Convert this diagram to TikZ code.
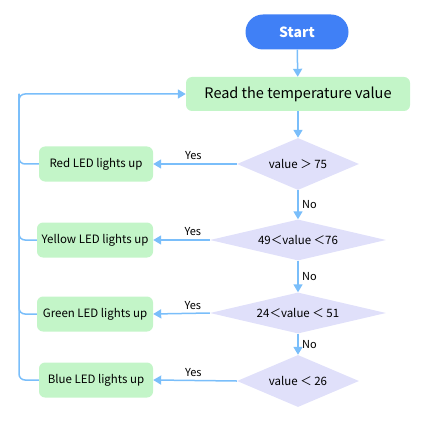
\documentclass[tikz,border=0pt]{standalone}
\usepackage{fontspec}
\setmainfont{Noto Sans CJK SC}
\usepackage{xcolor}
\usetikzlibrary{shapes.geometric,arrows.meta}
\definecolor{startblue}{RGB}{64,128,246}
\definecolor{ledgreen}{RGB}{195,245,200}
\definecolor{testlilac}{RGB}{224,224,250}
\definecolor{flowblue}{RGB}{122,190,250}

\begin{document}
\begin{tikzpicture}[x=1pt, y=-1pt,
    ledbox/.style={fill=ledgreen, rounded corners=6pt, minimum height=35pt, inner sep=0pt, font=\fontsize{11.5}{14}\selectfont},
    test/.style={diamond, fill=testlilac, inner sep=0pt, font=\fontsize{11.5}{14}\selectfont},
    flow/.style={draw=flowblue, line width=1.5pt, -{Triangle[width=9pt,length=8pt]}},
    link/.style={draw=flowblue, line width=1.5pt, rounded corners=6pt},
    lab/.style={font=\fontsize{11}{12}\selectfont}]
    \useasboundingbox (0,0) rectangle (425,422);

    \node [fill=startblue, text=white, rounded corners=17.5pt, minimum width=103pt, minimum height=35pt, font=\fontsize{14}{16}\selectfont\bfseries] (start) at (297, 32){Start};
    \node [ledbox, minimum width=224pt, minimum height=34pt, font=\fontsize{14.5}{16}\selectfont] (read) at (298, 94){Read the temperature value};

    \node [test, aspect=2.35, minimum width=122pt, minimum height=52pt] (T1) at (298, 164){value ＞ 75};
    \node [test, aspect=4.3, minimum width=176pt, minimum height=41pt] (T2) at (298, 240){49＜value ＜76};
    \node [test, aspect=4.3, minimum width=176pt, minimum height=41pt] (T3) at (298, 313){24＜value ＜ 51};
    \node [test, aspect=2.35, minimum width=122pt, minimum height=52pt] (T4) at (298, 381){value ＜ 26};

    \node [ledbox, minimum width=114pt] (red) at (96, 164){Red LED lights up};
    \node [ledbox, minimum width=116pt] (yellow) at (95, 240){Yellow LED lights up};
    \node [ledbox, minimum width=116pt] (green) at (95, 314){Green LED lights up};
    \node [ledbox, minimum width=114pt] (blue) at (96, 380){Blue LED lights up};

    \coordinate (loop) at (19, 94);

    \draw[flow] (start) to (read);
    \draw[flow] (read) to (T1);
    \draw[flow] (T1) to node[lab, right, midway] {No} (T2);
    \draw[flow] (T2) to node[lab, right, midway] {No} (T3);
    \draw[flow] (T3) to node[lab, right, midway] {No} (T4);

    \draw[flow] (T1.west) to node[lab, above, pos=.52] {Yes} (red.east);
    \draw[flow] (T2.west) to node[lab, above, pos=.3] {Yes} (yellow.east);
    \draw[flow] (T3.west) to node[lab, above, pos=.3] {Yes} (green.east);
    \draw[flow] (T4.west) to node[lab, above, pos=.52] {Yes} (blue.east);

    \draw[flow, rounded corners=6pt] (blue.west) -| (loop) -- (read.west);
    \foreach \led in {red, yellow, green}
        \draw[link] (\led.west) -| (loop);
\end{tikzpicture}
\end{document}
